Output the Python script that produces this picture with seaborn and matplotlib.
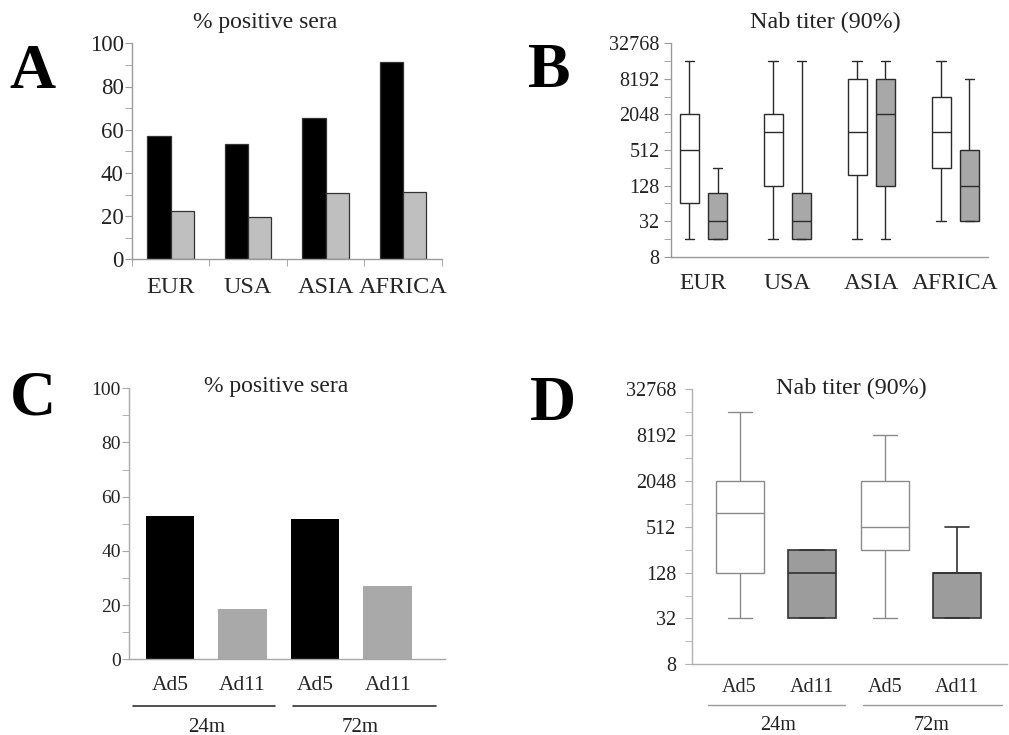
import pandas as pd
import matplotlib
matplotlib.use('Agg')
import matplotlib.pyplot as plt
from matplotlib.ticker import FixedLocator, NullFormatter
import seaborn as sns

# panel A / B: by region
regions = ['EUR', 'USA', 'ASIA', 'AFRICA']
serotypes = ['Ad5', 'Ad11']
pos_ad5 = [57, 53.5, 65.5, 91.5]
pos_ad11 = [22.5, 19.5, 30.8, 31.2]

# five-number summaries (min, q1, median, q3, max)
titer_ad5 = [[16, 64, 512, 2048, 16384],
             [16, 128, 1024, 2048, 16384],
             [16, 192, 1024, 8192, 16384],
             [32, 256, 1024, 4096, 16384]]
titer_ad11 = [[16, 16, 32, 96, 256],
              [16, 16, 32, 96, 16384],
              [16, 128, 2048, 8192, 16384],
              [32, 32, 128, 512, 8192]]

# panel C / D: by follow-up
conditions = ['Ad5 24m', 'Ad11 24m', 'Ad5 72m', 'Ad11 72m']
cond_sero = ['Ad5', 'Ad11', 'Ad5', 'Ad11']
cond_time = ['24m', '72m']
pos_cond = [52.9, 18.6, 51.7, 27.2]
titer_cond = [[32, 128, 768, 2048, 16384],
              [32, 32, 128, 256, 256],
              [32, 256, 512, 2048, 8192],
              [32, 32, 128, 128, 512]]

log_ticks = [8, 32, 128, 512, 2048, 8192, 32768]
log_minor = [16, 64, 256, 1024, 4096, 16384]

sns.set_style('ticks')
plt.rcParams['font.family'] = ['Liberation Serif', 'DejaVu Serif']
plt.rcParams['text.color'] = '#222222'
plt.rcParams['axes.labelcolor'] = '#222222'

fig = plt.figure(figsize=(10.09, 7.35), dpi=100)
W, H = 1009, 735


def make_ax(l, r, t, b):
    return fig.add_axes([l / W, 1 - b / H, (r - l) / W, (b - t) / H])


def style_ax(ax, spine='#9a9a9a', pad=1):
    sns.despine(ax=ax)
    for s in ['left', 'bottom']:
        ax.spines[s].set_color(spine)
        ax.spines[s].set_linewidth(1.0)
    ax.tick_params(axis='y', which='both', colors=spine, labelcolor='#222222',
                   direction='out', length=5, pad=pad)
    ax.set_xlabel('')
    ax.set_ylabel('')


def log_axis(ax):
    ax.set_ylim(8, 32768)
    ax.yaxis.set_major_locator(FixedLocator(log_ticks))
    ax.yaxis.set_minor_locator(FixedLocator(log_minor))
    ax.yaxis.set_minor_formatter(NullFormatter())
    ax.set_yticks(log_ticks, [str(t) for t in log_ticks])


# ---- A
axA = make_ax(132, 441.7, 43.3, 259.3)
dfA = pd.DataFrame({'region': regions * 2,
                    'sero': ['Ad5'] * 4 + ['Ad11'] * 4,
                    'pct': pos_ad5 + pos_ad11})
sns.barplot(data=dfA, x='region', y='pct', hue='sero', order=regions,
            hue_order=serotypes, palette=['black', '#bfbfbf'], width=0.6,
            gap=0, errorbar=None, edgecolor='#333333', linewidth=0.9,
            legend=False, ax=axA)
axA.set_ylim(0, 100)
axA.set_xlim(-0.5, 3.5)
style_ax(axA)
axA.yaxis.set_major_locator(FixedLocator([0, 20, 40, 60, 80, 100]))
axA.yaxis.set_minor_locator(FixedLocator([10, 30, 50, 70, 90]))
axA.xaxis.set_minor_locator(FixedLocator([-0.5, 0.5, 1.5, 2.5, 3.5]))
axA.tick_params(axis='x', which='major', length=0, pad=13, labelsize=17.5)
axA.tick_params(axis='x', which='minor', length=5, colors='#9a9a9a')
axA.tick_params(axis='y', labelsize=16.5)
axA.text(0.43, 1.094, '% positive sera', transform=axA.transAxes,
         ha='center', va='center', fontsize=17)

# ---- B
axB = make_ax(670.7, 988, 43.3, 256.7)
rowsB = []
for i, reg in enumerate(regions):
    for v in titer_ad5[i]:
        rowsB.append((reg, 'Ad5', v))
    for v in titer_ad11[i]:
        rowsB.append((reg, 'Ad11', v))
dfB = pd.DataFrame(rowsB, columns=['region', 'sero', 'titer'])
sns.boxplot(data=dfB, x='region', y='titer', hue='sero', order=regions,
            hue_order=serotypes, palette=['white', '#a8a8a8'], width=0.675,
            gap=0.33, whis=(0, 100), log_scale=2, linecolor='#2a2a2a',
            linewidth=1.0, legend=False, ax=axB)
log_axis(axB)
axB.set_xlim(-0.39, 3.39)
style_ax(axB, pad=3)
axB.tick_params(axis='y', labelsize=14.5)
axB.tick_params(axis='x', length=0, pad=12, labelsize=17)
axB.text(0.486, 1.097, 'Nab titer (90%)', transform=axB.transAxes,
         ha='center', va='center', fontsize=17.3)

# ---- C
axC = make_ax(129.3, 445, 388.3, 659.3)
dfC = pd.DataFrame({'cond': conditions, 'sero': cond_sero, 'pct': pos_cond})
sns.barplot(data=dfC, x='cond', y='pct', hue='cond', order=conditions,
            palette=['black', '#a9a9a9', 'black', '#a9a9a9'], width=0.667,
            errorbar=None, linewidth=0, legend=False, ax=axC)
axC.set_ylim(0, 100)
axC.set_xlim(-0.56, 3.79)
style_ax(axC, '#a8a8a8')
axC.yaxis.set_major_locator(FixedLocator([0, 20, 40, 60, 80, 100]))
axC.yaxis.set_minor_locator(FixedLocator([10, 30, 50, 70, 90]))
axC.set_xticks(range(4))
axC.set_xticklabels(cond_sero)
axC.tick_params(axis='y', labelsize=14)
axC.tick_params(axis='x', length=0, pad=12, labelsize=15.5)
axC.text(0.465, 1.006, '% positive sera', transform=axC.transAxes,
         ha='center', va='center', fontsize=17)
trC = axC.get_xaxis_transform()
for (x0, x1), xl, lab in zip([(-0.51, 1.45), (1.70, 3.66)], [0.5, 2.62], cond_time):
    axC.plot([x0, x1], [-0.172, -0.172], transform=trC, color='#333333',
             lw=1.2, clip_on=False)
    axC.text(xl, -0.25, lab, transform=trC, ha='center', va='center',
             fontsize=15)

# ---- D
axD = make_ax(691.7, 1006.7, 389.3, 664.3)
rowsD = []
for c, s, vals in zip(conditions, cond_sero, titer_cond):
    for v in vals:
        rowsD.append((c, s, v))
dfD = pd.DataFrame(rowsD, columns=['cond', 'sero', 'titer'])
sns.boxplot(data=dfD[dfD.sero == 'Ad5'], x='cond', y='titer', order=conditions,
            color='white', width=0.66, whis=(0, 100), log_scale=2,
            linecolor='#8a8a8a', linewidth=1.0, ax=axD)
sns.boxplot(data=dfD[dfD.sero == 'Ad11'], x='cond', y='titer', order=conditions,
            color='#9c9c9c', width=0.66, whis=(0, 100), log_scale=2,
            linecolor='#333333', linewidth=1.2, ax=axD)
log_axis(axD)
axD.set_xlim(-0.66, 3.68)
style_ax(axD, '#b0b0b0', pad=6)
axD.set_xticks(range(4))
axD.set_xticklabels(cond_sero)
axD.tick_params(axis='y', labelsize=14.5)
axD.tick_params(axis='x', length=0, pad=10, labelsize=14.5)
axD.text(0.508, 1.004, 'Nab titer (90%)', transform=axD.transAxes,
         ha='center', va='center', fontsize=17.3)
trD = axD.get_xaxis_transform()
for (x0, x1), xl, lab in zip([(-0.44, 1.45), (1.70, 3.61)], [0.53, 2.65], cond_time):
    axD.plot([x0, x1], [-0.148, -0.148], transform=trD, color='#9a9a9a',
             lw=1.0, clip_on=False)
    axD.text(xl, -0.221, lab, transform=trD, ha='center', va='center',
             fontsize=14.5)

# panel letters
for lab, x, y in [('A', 32.5, 88), ('B', 549.5, 87), ('C', 33, 415), ('D', 553, 420)]:
    fig.text(x / W, 1 - y / H, lab, ha='center', va='baseline',
             fontsize=46, fontweight='bold', color='black')

fig.savefig('out.png', dpi=100)
